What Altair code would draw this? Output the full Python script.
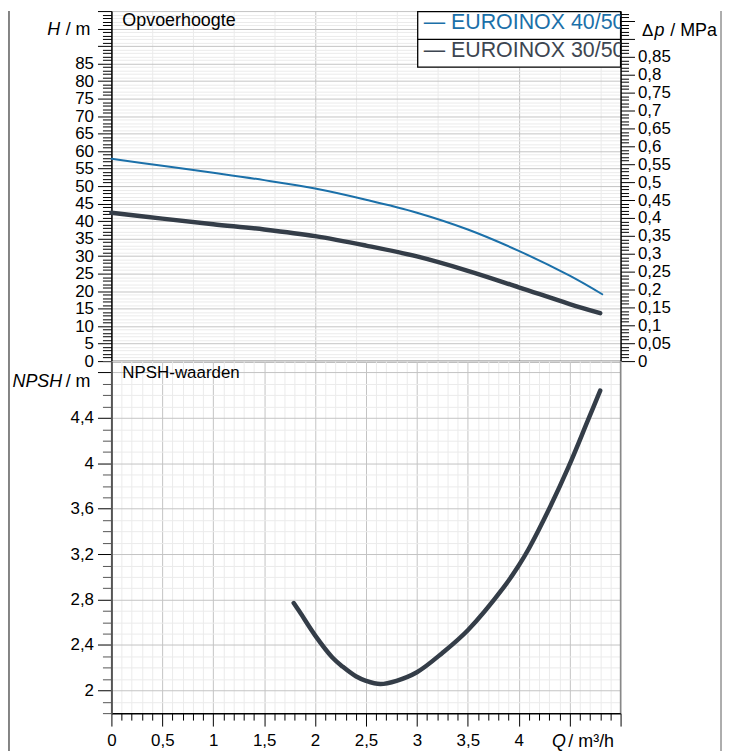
import altair as alt
import pandas as pd

# ---------------- data ----------------
SERIES = ["EUROINOX 40/50", "EUROINOX 30/50"]
Q_40 = [0, 0.5, 1.0, 1.5, 2.0, 2.5, 3.0, 3.5, 4.0, 4.5, 4.82]
H_40 = [57.8, 55.8, 53.8, 51.7, 49.3, 46.1, 42.4, 37.6, 31.5, 24.4, 19.1]
Q_30 = [0, 0.5, 1.0, 1.5, 2.0, 2.5, 3.0, 3.5, 4.0, 4.5, 4.8]
H_30 = [42.4, 40.7, 39.1, 37.6, 35.7, 33.0, 29.9, 25.8, 21.1, 16.3, 13.7]
Q_NPSH = [1.79, 1.85, 2.0, 2.17, 2.27, 2.4, 2.5, 2.64, 2.8, 3.0, 3.25, 3.5, 3.85, 4.0,
          4.1, 4.31, 4.49, 4.68, 4.8]
NPSH = [2.77, 2.69, 2.485, 2.29, 2.21, 2.125, 2.085, 2.057, 2.085, 2.16, 2.33, 2.53, 2.905,
        3.10, 3.25, 3.62, 3.97, 4.38, 4.64]

X_TICKS = [round(i * 0.1, 1) for i in range(51)]        # 0 .. 5
H_TICKS = list(range(0, 101))                            # 0 .. 100 m
DP_TICKS = [round(i * 0.01, 2) for i in range(98)]       # 0 .. 0.97 MPa
N_TICKS = [round(1.8 + i * 0.1, 1) for i in range(32)]   # 1.8 .. 4.9 m
M_TO_MPA = 0.00978

# ---------------- styles ----------------
FONT = "Liberation Sans"
BLUE = "#1b70a9"
DARK = "#343d48"
LEGDARK = "#3d4651"
MAJ = "#c4c4c4"
MIN = "#ebebeb"
W, H_TOP, H_BOT = 512, 352, 354
LBL = 17


def cond(test, a, b):
    return {"condition": {"test": test, "value": a}, "value": b}


comma = "replace(toString(datum.value), '.', ',')"

df_h = pd.concat([
    pd.DataFrame({"Q": Q_40, "H": H_40, "series": SERIES[0]}),
    pd.DataFrame({"Q": Q_30, "H": H_30, "series": SERIES[1]}),
])
df_30 = pd.DataFrame({"Q": Q_30, "H": H_30})
df_n = pd.DataFrame({"Q": Q_NPSH, "NPSH": NPSH})
one = pd.DataFrame({"a": [0]})

x_scale = alt.Scale(domain=[0, 5], nice=False, zero=False)

# ---------------- top panel ----------------
h_lab = "datum.value % 5 === 0 && datum.value <= 85"
lines = alt.Chart(df_h).mark_line(interpolate="catmull-rom", strokeCap="round").encode(
    x=alt.X("Q:Q", scale=x_scale,
            axis=alt.Axis(values=X_TICKS, grid=True,
                          gridColor=cond("round(datum.value*10) % 5 === 0", MAJ, MIN),
                          ticks=False, labels=False, domainColor="black",
                          domainWidth=1.5, title=None)),
    y=alt.Y("H:Q", scale=alt.Scale(domain=[0, 100], nice=False),
            axis=alt.Axis(values=H_TICKS, grid=True,
                          gridColor=cond("datum.value % 5 === 0", MAJ, MIN),
                          tickSize=cond("datum.value % 5 === 0", 14, 9),
                          tickColor="black", domainColor="black", domainWidth=1.5,
                          labelExpr=h_lab + " ? " + comma + " : ''",
                          labelFontSize=cond(h_lab, LBL, 0),
                          labelOverlap=False, labelPadding=4,
                          title=None)),
    color=alt.Color("series:N", scale=alt.Scale(domain=SERIES, range=[BLUE, DARK]), legend=None),
    strokeWidth=alt.StrokeWidth("series:N", scale=alt.Scale(domain=SERIES, range=[2, 4.5]),
                                legend=None),
)

dp_lab = "round(datum.value*100) % 5 === 0 && datum.value <= 0.855"
dp_layer = alt.Chart(df_30).transform_calculate(dp=f"datum.H * {M_TO_MPA}").mark_line(
    opacity=0).encode(
    x=alt.X("Q:Q", scale=x_scale),
    y=alt.Y("dp:Q", scale=alt.Scale(domain=[0, 100 * M_TO_MPA], nice=False),
            axis=alt.Axis(orient="right", values=DP_TICKS, grid=False,
                          tickSize=cond("round(datum.value*100) % 5 === 0", 14, 8),
                          tickColor="black", domainColor="black", domainWidth=1.5,
                          labelExpr=dp_lab + " ? " + comma + " : ''",
                          labelFontSize=cond(dp_lab, LBL, 0),
                          labelOverlap=False, labelPadding=3,
                          title=None)),
)


def txt(text, x, y, size=18, style="normal", color="black", align="left", clip=False):
    return alt.Chart(one).mark_text(text=text, align=align, baseline="middle", font=FONT,
                                    fontSize=size, fontStyle=style, color=color,
                                    clip=clip).encode(x=alt.value(x), y=alt.value(y))


legend_box = alt.Chart(one).mark_rect(fill="white", stroke="black", strokeWidth=1.3).encode(
    x=alt.value(308), x2=alt.value(W), y=alt.value(0.6), y2=alt.value(56.4))
legend_div = alt.Chart(one).mark_rule(color="black", strokeWidth=1.3).encode(
    x=alt.value(308), x2=alt.value(W), y=alt.value(28.4))

frame_l_top = alt.Chart(one).mark_rule(color="#333", strokeWidth=1.2).encode(
    x=alt.value(-103), y=alt.value(0), y2=alt.value(H_TOP))
frame_r_top = alt.Chart(one).mark_rule(color="#777", strokeWidth=1.2).encode(
    x=alt.value(613), y=alt.value(0), y2=alt.value(H_TOP))

top_marks = alt.layer(
    lines,
    txt("Opvoerhoogte", 11, 10.5, 18),
    txt("H", -64.5, 19, 18, "italic"),
    txt("/ m", -46, 19, 18),
    txt("Δ", 533.5, 20.5, 17),
    txt("p", 546, 20.5, 18, "italic"),
    txt("/ MPa", 562, 20.5, 18),
    legend_box, legend_div,
    txt("— " + SERIES[0], 314, 12.5, 21.5, color=BLUE, clip=True),
    txt("— " + SERIES[1], 314, 40, 21.5, color=LEGDARK, clip=True),
    frame_l_top, frame_r_top,
)

top = alt.layer(top_marks, dp_layer).resolve_scale(y="independent").properties(
    width=W, height=H_TOP)

# ---------------- bottom panel ----------------
x_lab = "round(datum.value*10) % 5 === 0 && datum.value <= 4.01"
n_lab = "round(datum.value*10) % 4 === 0 && datum.value <= 4.45"
npsh_line = alt.Chart(df_n).mark_line(interpolate="catmull-rom", color=DARK, strokeWidth=4.5,
                                      strokeCap="round").encode(
    x=alt.X("Q:Q", scale=x_scale,
            axis=alt.Axis(values=X_TICKS, grid=True,
                          gridColor=cond("round(datum.value*10) % 5 === 0", MAJ, MIN),
                          tickSize=cond("round(datum.value*10) % 5 === 0", 13, 7),
                          tickColor="black", domainColor="black", domainWidth=1.5,
                          labelExpr=x_lab + " ? " + comma + " : ''",
                          labelFontSize=cond(x_lab, LBL, 0),
                          labelOverlap=False, labelFlush=False, labelPadding=7,
                          title=None)),
    y=alt.Y("NPSH:Q", scale=alt.Scale(domain=[1.8, 4.9], nice=False, zero=False),
            axis=alt.Axis(values=N_TICKS, grid=True,
                          gridColor=cond("round(datum.value*10) % 4 === 0", MAJ, MIN),
                          tickSize=cond("round(datum.value*10) % 4 === 0", 14, 9),
                          tickColor=cond("round(datum.value*10) % 4 === 0", "black", "#555"),
                          domainColor="#555", domainWidth=2,
                          labelExpr=n_lab + " ? " + comma + " : ''",
                          labelFontSize=cond(n_lab, LBL, 0),
                          labelOverlap=False, labelPadding=4,
                          title=None)),
)

right_edge = alt.Chart(one).mark_rule(color="#888", strokeWidth=1.5).encode(
    x=alt.value(W), y=alt.value(0), y2=alt.value(H_BOT))
frame_l_bot = alt.Chart(one).mark_rule(color="#333", strokeWidth=1.2).encode(
    x=alt.value(-103), y=alt.value(0), y2=alt.value(H_BOT + 38))
frame_r_bot = alt.Chart(one).mark_rule(color="#777", strokeWidth=1.2).encode(
    x=alt.value(613), y=alt.value(0), y2=alt.value(H_BOT + 38))

bottom = alt.layer(
    npsh_line,
    right_edge,
    txt("NPSH-waarden", 11, 11.7, 17),
    txt("NPSH", -99.5, 21, 18, "italic"),
    txt("/ m", -46, 21, 18),
    txt("Q", 443, H_BOT + 29, 18, "italic"),
    txt("/ m³/h", 459.5, H_BOT + 29, 18),
    frame_l_bot, frame_r_bot,
).properties(width=W, height=H_BOT)

chart = alt.vconcat(top, bottom, spacing=0, bounds="flush").properties(
    padding={"left": 0, "top": 0, "right": 0, "bottom": 0}
).configure_view(strokeWidth=0).configure_axis(
    labelFont=FONT, labelColor="black", tickWidth=1
)

chart.save("out.html", embed_options={"renderer": "svg", "actions": False})
